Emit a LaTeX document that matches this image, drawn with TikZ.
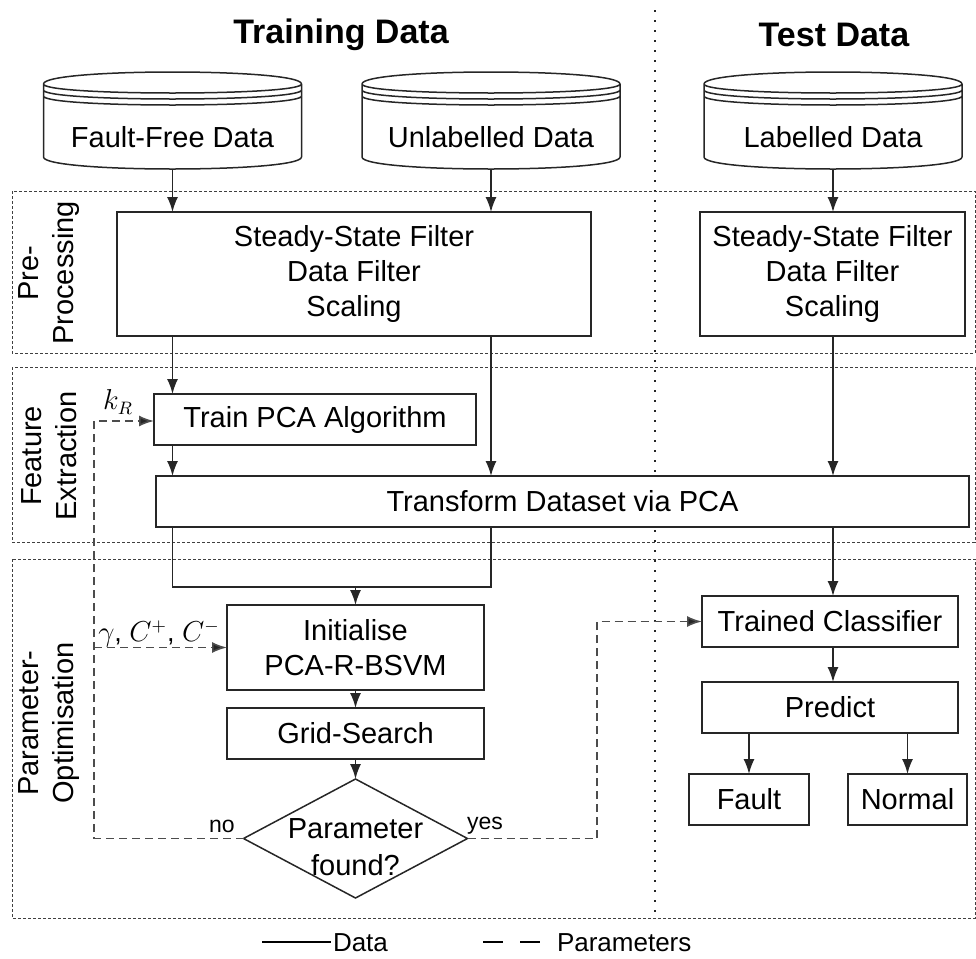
\documentclass[tikz,border=0pt]{standalone}
\usepackage{fontspec}
\setmainfont{Liberation Sans}
\usetikzlibrary{arrows.meta,calc}

% data-store cylinder drawn around a named node (top ellipse plus two extra rims)
\newcommand\storeshape[1]{%
  \path[draw=black!85, line width=0.75pt]
    let \p1=(#1.north west), \p2=(#1.south east) in
    (\x1,\y1-6pt) .. controls (\x1,\y1+2pt) and (\x2,\y1+2pt) .. (\x2,\y1-6pt)
    -- (\x2,\y2+6pt) .. controls (\x2,\y2-2pt) and (\x1,\y2-2pt) .. (\x1,\y2+6pt) -- cycle
    (\x1,\y1-6pt) .. controls (\x1,\y1-12pt) and (\x2,\y1-12pt) .. (\x2,\y1-6pt)
    (\x1,\y1-9pt) .. controls (\x1,\y1-15pt) and (\x2,\y1-15pt) .. (\x2,\y1-9pt)
    (\x1,\y1-12pt) .. controls (\x1,\y1-18pt) and (\x2,\y1-18pt) .. (\x2,\y1-12pt);
}

\begin{document}
\begin{tikzpicture}[x=0.5pt,y=-0.5pt,
  every node/.style={inner sep=0pt, outer sep=0pt, font=\fontsize{14.5}{17.5}\selectfont},
  stepbox/.style={draw=black!85, line width=0.75pt, fill=white, align=center},
  store/.style={minimum width=129pt, minimum height=48.5pt, text height=30pt, text depth=3.5pt},
  heading/.style={font=\fontsize{17}{20}\selectfont\bfseries},
  group/.style={draw=black!75, line width=0.5pt, dash pattern=on 1.5pt off 1pt},
  grouplabel/.style={rotate=90, align=center},
  dataline/.style={draw=black!85, line width=0.75pt},
  flow/.style={dataline, -{Latex[length=7.5pt,width=5.5pt]}},
  param/.style={draw=black!70, line width=0.8pt, dash pattern=on 4pt off 2.5pt},
  paramflow/.style={param, -{Latex[length=7.5pt,width=5.5pt,fill=black!85]}},
  mathlbl/.style={font=\fontsize{13.5}{15}\selectfont},
  smalllbl/.style={font=\fontsize{11.5}{13}\selectfont},
  legendtxt/.style={anchor=west, font=\fontsize{13}{15}\selectfont},
]
\useasboundingbox (0,0) rectangle (976,959);

% column separator between training and test data
\draw[black!85, line width=1pt, dash pattern=on 1pt off 4pt] (655,10) -- (655,915);

% stage groups
\draw[group] (12,191) rectangle (975,353);
\draw[group] (12,367) rectangle (975,542);
\draw[group] (12,559) rectangle (975,918);
\node[grouplabel] (gpre)  at (49,273) {Pre-\\Processing};
\node[grouplabel] (gfeat) at (49,456) {Feature\\Extraction};
\node[grouplabel] (gopt)  at (49,723) {Parameter-\\Optimisation};

% headings
\node[heading] (ttrain) at (341,35) {Training Data};
\node[heading] (ttest)  at (834,35) {Test Data};

% data sources
\node[store] (ffdata) at (172.5,120.5) {Fault-Free Data};
\node[store] (uldata) at (491,120.5) {Unlabelled Data};
\node[store] (lbdata) at (833,120.5) {Labelled Data};
\storeshape{ffdata}
\storeshape{uldata}
\storeshape{lbdata}

% pre-processing
\node[stepbox, minimum width=237pt, minimum height=62pt] (pretrain) at (354,274)
  {Steady-State Filter\\Data Filter\\Scaling};
\node[stepbox, minimum width=132.5pt, minimum height=62pt] (pretest) at (832.5,274)
  {Steady-State Filter\\Data Filter\\Scaling};

% feature extraction
\node[stepbox, minimum width=161pt, minimum height=25.5pt] (pca) at (315,419.5) {Train PCA Algorithm};
\node[stepbox, minimum width=406.5pt, minimum height=25.5pt] (transform) at (562.5,501.5) {Transform Dataset via PCA};

% parameter optimisation
\node[stepbox, minimum width=128.5pt, minimum height=42.5pt] (init) at (355.5,647.5) {Initialise\\PCA-R-BSVM};
\node[stepbox, minimum width=128.5pt, minimum height=25.5pt] (grid) at (355.5,733.5) {Grid-Search};
\node[minimum width=112pt, minimum height=59.5pt] (found) at (355.5,838.5) {};
\draw[dataline, fill=white] (found.north) -- (found.east) -- (found.south) -- (found.west) -- cycle;
\node[align=center, font=\fontsize{14.5}{18.5}\selectfont] (foundtxt) at (355.5,847) {Parameter\\found?};

% test path
\node[stepbox, minimum width=128pt, minimum height=25.5pt] (classifier) at (830,621.5) {Trained Classifier};
\node[stepbox, minimum width=128pt, minimum height=25.5pt] (predict) at (830,707.5) {Predict};
\node[stepbox, minimum width=60pt, minimum height=25.5pt] (fault) at (749,799.5) {Fault};
\node[stepbox, minimum width=59.5pt, minimum height=25.5pt] (normal) at (907.5,799.5) {Normal};

% data flow
\draw[flow] (ffdata.south) -- (ffdata.south |- pretrain.north);
\draw[flow] (uldata.south) -- (uldata.south |- pretrain.north);
\draw[flow] (lbdata.south) -- (lbdata.south |- pretest.north);
\draw[flow] (ffdata.south |- pretrain.south) -- (ffdata.south |- pca.north);
\draw[flow] (ffdata.south |- pca.south) -- (ffdata.south |- transform.north);
\draw[flow] (uldata.south |- pretrain.south) -- (uldata.south |- transform.north);
\draw[flow] (lbdata.south |- pretest.south) -- (lbdata.south |- transform.north);
\coordinate (joinl) at (172.5,587);
\coordinate (joinr) at (491,587);
\draw[dataline] (ffdata.south |- transform.south) -- (joinl) -- (joinr) -- (uldata.south |- transform.south);
\draw[flow] (init.north |- joinl) -- (init.north);
\draw[flow] (init.south) -- (grid.north);
\draw[flow] (grid.south) -- (found.north);
\draw[flow] (lbdata.south |- transform.south) -- (lbdata.south |- classifier.north);
\draw[flow] (lbdata.south |- classifier.south) -- (lbdata.south |- predict.north);
\draw[flow] (fault.north |- predict.south) -- (fault.north);
\draw[flow] (normal.north |- predict.south) -- (normal.north);

% parameter flow
\coordinate (loopb) at (94,838.5);
\coordinate (loopt) at (94,421);
\draw[paramflow] (found.west) -- (loopb) -- (loopt) -- (loopt -| pca.west);
\draw[paramflow] (loopb |- init.west) -- (init.west);
\coordinate (yesb) at (597,838.5);
\draw[paramflow] (found.east) -- (yesb) -- (yesb |- classifier.west) -- (classifier.west);
\node[mathlbl] (lkr) at (118,402) {$k_R$};
\node[mathlbl] (lgam) at (159,634) {$\gamma$, $C^{+}$, $C^{-}$};
\node[smalllbl] (lno) at (222,826) {no};
\node[smalllbl] (lyes) at (485,826) {yes};

% legend
\coordinate (lds) at (262,942);
\coordinate (lde) at (331,942);
\draw[black, line width=1.4pt] (lds) -- (lde);
\node[legendtxt] (ldata) at (333,943) {Data};
\coordinate (lps) at (483,942);
\coordinate (lpe) at (541,942);
\draw[black, line width=1.4pt, dash pattern=on 10pt off 8.5pt] (lps) -- (lpe);
\node[legendtxt] (lparam) at (557,943) {Parameters};
\end{tikzpicture}
\end{document}
